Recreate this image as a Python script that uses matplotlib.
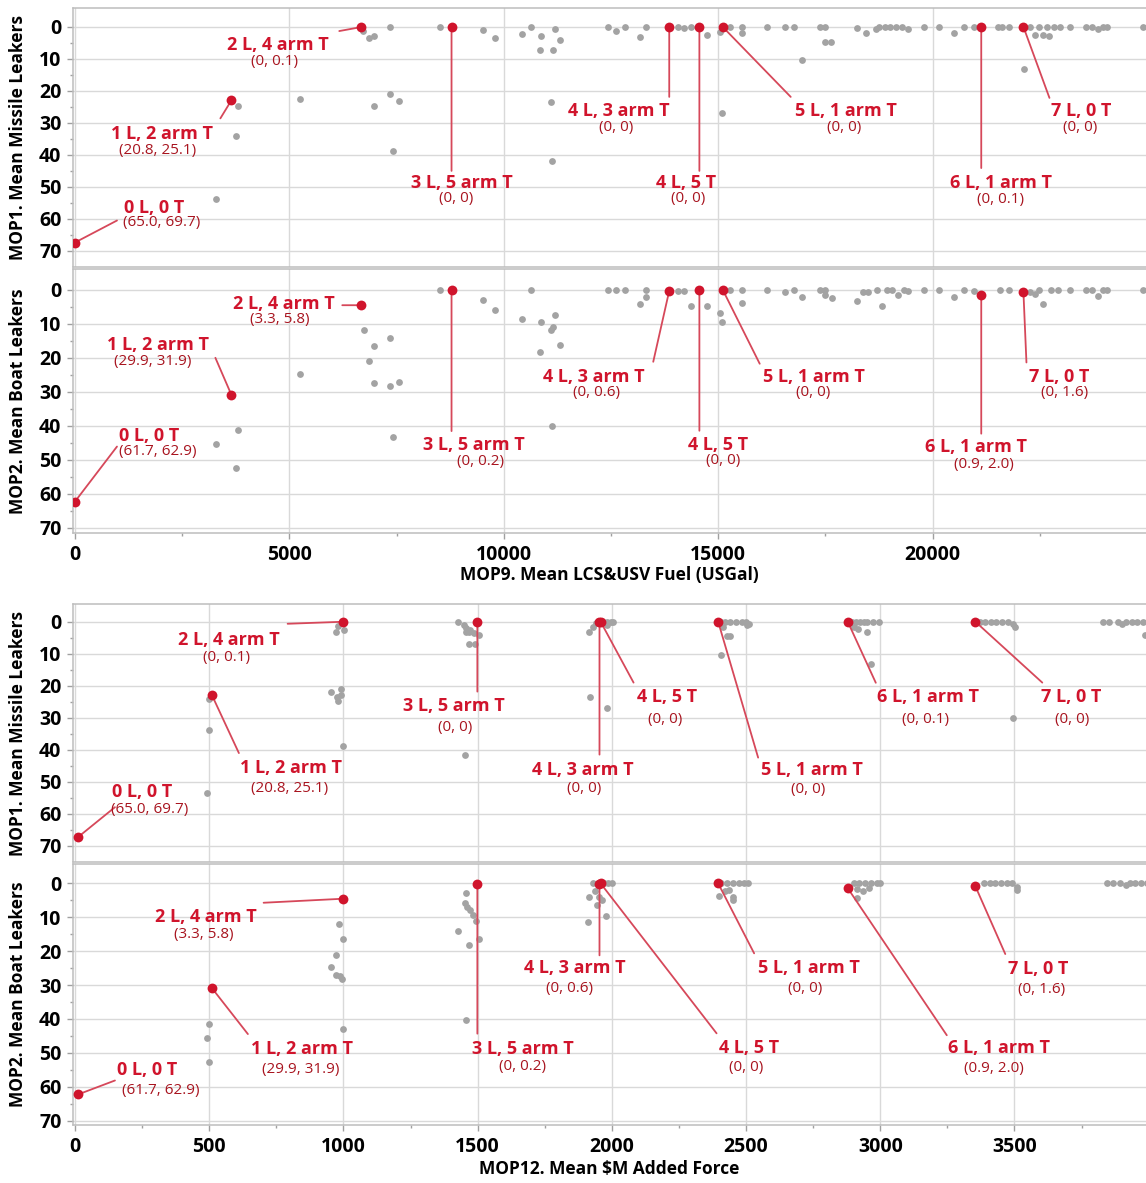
import matplotlib
matplotlib.use('Agg')
import matplotlib.pyplot as plt
from matplotlib.ticker import MultipleLocator, FixedLocator

plt.rcParams['font.family'] = ['Open Sans', 'DejaVu Sans']
plt.rcParams['font.weight'] = 'bold'

# highlighted designs
names = ['0 L, 0 T', '1 L, 2 arm T', '2 L, 4 arm T', '3 L, 5 arm T', '4 L, 3 arm T',
         '4 L, 5 T', '5 L, 1 arm T', '6 L, 1 arm T', '7 L, 0 T']
fuel = [0, 3647, 6676, 8781, 13858, 14561, 15105, 21134, 22118]
cost = [11, 510, 997, 1499, 1954, 1958, 2396, 2879, 3354]
mop1 = [67.35, 22.95, 0.05, 0, 0, 0, 0, 0.05, 0]
mop2 = [62.3, 30.9, 4.55, 0.1, 0.3, 0, 0, 1.45, 0.8]
mop1_ranges = ['(65.0, 69.7)', '(20.8, 25.1)', '(0, 0.1)', '(0, 0)', '(0, 0)',
               '(0, 0)', '(0, 0)', '(0, 0.1)', '(0, 0)']
mop2_ranges = ['(61.7, 62.9)', '(29.9, 31.9)', '(3.3, 5.8)', '(0, 0.2)', '(0, 0.6)',
               '(0, 0)', '(0, 0)', '(0.9, 2.0)', '(0, 1.6)']

# other designs (grey) - fuel vs MOP1
g1_x = [3808, 3763, 3289, 5242, 6720, 6855, 6962, 7347, 6962, 7347,
        7554, 7419, 8513, 9516, 9803, 10430, 10627, 10860, 11200, 11300,
        10834, 11139, 11111, 11130, 12425, 12627, 12821, 13172, 13322, 14051,
        14192, 14359, 14736, 15035, 15088, 15281, 15545, 15545, 16134, 16555,
        16775, 17373, 17496, 17496, 17636, 16959, 15079, 18225, 18444, 18673,
        18752, 18884, 19016, 19147, 19279, 19429, 19806, 20158, 20510, 20729,
        20975, 21520, 21608, 21784, 22267, 22381, 22487, 22575, 22706, 22662,
        22838, 22970, 23207, 23585, 23717, 23849, 23980, 24068, 24900, 22135]
g1_y = [24.6, 34.0, 53.9, 22.4, 1.25, 3.6, 2.7, 0, 24.6, 21.0,
        23.1, 38.9, 0, 1.0, 3.6, 2.2, 0, 2.7, 0.6, 4.2,
        7.1, 7.1, 23.6, 41.8, 0, 1.25, 0, 3.1, 0, 0,
        0.5, 0, 2.4, 1.6, 0.5, 0, 0, 1.8, 0, 0,
        0, 0, 0, 4.8, 4.6, 10.2, 26.9, 0.2, 2.0, 0.6,
        0, 0, 0, 0, 0, 0.6, 0, 0, 1.8, 0,
        0, 0, 0, 0, 0, 2.6, 0, 2.6, 2.9, 0,
        0, 0, 0, 0, 0, 0.8, 0, 0, 0, 13.1]

# fuel vs MOP2
g2_x = [3289, 3808, 3763, 5242, 6747, 6962, 6855, 6962, 7347, 7347,
        7554, 7419, 8513, 9516, 9803, 10430, 10627, 10860, 11200, 11111,
        11139, 11300, 10834, 11130, 12425, 12627, 12821, 13172, 13322, 13322,
        14051, 14192, 14359, 14736, 15035, 15088, 15281, 15545, 15545, 16134,
        16555, 16775, 16959, 17373, 17496, 17496, 17654, 18225, 18374, 18488,
        18708, 18814, 18928, 19060, 19191, 19323, 19429, 19806, 20158, 20510,
        20729, 20975, 21564, 21784, 22267, 22381, 22487, 22575, 22750, 22926,
        23207, 23585, 23717, 23849, 23980, 24068, 24900]
g2_y = [45.5, 41.3, 52.5, 24.8, 11.8, 16.4, 21.0, 27.3, 14.2, 28.3,
        27.0, 43.2, 0, 2.9, 6.0, 8.6, 0, 9.4, 7.4, 11.7,
        11.1, 16.3, 18.3, 40.0, 0, 0, 0, 4.3, 0, 2.0,
        0.4, 0.4, 4.9, 4.9, 6.7, 9.5, 0, 0, 3.9, 0,
        0.6, 0, 2.2, 0, 0, 1.6, 2.5, 3.3, 0.6, 0.6,
        0, 4.7, 0, 0, 1.4, 0, 0.4, 0, 0, 2.0,
        0, 0.4, 0, 0, 0.6, 1.2, 0, 4.3, 0, 0,
        0, 0, 0, 1.7, 0, 0, 0]

# cost vs MOP1
g3_x = [501, 499, 491, 953, 976, 978, 990, 990, 1000, 978,
        971, 1003, 1427, 1451, 1458, 1466, 1473, 1456, 1485, 1466,
        1491, 1505, 1454, 1920, 1916, 1930, 1940, 1947, 1968, 1982,
        1996, 2003, 1982, 1983, 2407, 2421, 2442, 2463, 2484, 2498,
        2505, 2512, 2414, 2428, 2442, 2405, 2896, 2910, 2924, 2938,
        2952, 2973, 2994, 2903, 2917, 2952, 2966, 3370, 3391, 3412,
        3433, 3454, 3475, 3496, 3503, 3496, 3831, 3852, 3887, 3901,
        3915, 3936, 3957, 3978, 3985]
g3_y = [24.3, 33.8, 53.5, 22.1, 23.6, 24.7, 22.9, 21.0, 38.8, 1.5,
        3.3, 2.6, 0, 1.0, 2.1, 3.3, 2.6, 3.3, 3.6, 7.1,
        7.1, 4.2, 41.7, 23.4, 3.1, 1.8, 0.4, 0, 0, 0,
        0, 0, 1.2, 26.9, 0, 0, 0, 0, 0, 0,
        1.2, 0.7, 1.8, 4.6, 4.6, 10.4, 0, 0, 0, 0,
        0, 0, 0, 1.8, 2.3, 3.1, 13.2, 0, 0, 0,
        0, 0, 0, 0.7, 1.8, 30.1, 0, 0, 0, 0.7,
        0, 0, 0, 0, 4.2]

# cost vs MOP2
g4_x = [499, 491, 499, 984, 1000, 971, 953, 974, 986, 993,
        1000, 1458, 1454, 1462, 1473, 1483, 1494, 1427, 1466, 1505,
        1456, 1916, 1937, 1951, 1965, 1944, 1913, 1980, 1930, 1972,
        1986, 2000, 2408, 2429, 2451, 2472, 2493, 2507, 2401, 2420,
        2436, 2453, 2453, 2901, 2922, 2943, 2965, 2986, 3000, 2915,
        2936, 2958, 2912, 3387, 3408, 3429, 3450, 3471, 3492, 3509,
        3509, 3845, 3866, 3894, 3915, 3929, 3950, 3971, 3992]
g4_y = [41.5, 45.5, 52.6, 12.0, 16.5, 21.1, 24.8, 27.0, 27.3, 28.2,
        43.1, 2.9, 5.7, 6.9, 8.0, 9.3, 11.1, 14.2, 18.3, 16.4,
        40.2, 4.1, 2.4, 3.9, 4.9, 6.3, 11.5, 9.7, 0, 0,
        0, 0, 0, 0, 0, 0, 0, 0, 3.7, 2.4,
        1.9, 3.9, 5.0, 0, 0, 0, 0, 0, 0, 1.7,
        2.4, 1.5, 4.4, 0, 0, 0, 0, 0, 0, 1.0,
        2.1, 0, 0, 0, 0.5, 0, 0, 0, 0]

# label placement in pixels relative to the point (y down):
# bold label centre, range label centre, end of leader line
offs1 = [(79, -35, 87, -20, 42, -22), (-69, 34, -74, 50, -11, 18), (-83, 18, -87, 34, -22, 4),
         (10, 156, 5, 172, 0, 144), (-50, 84, -53, 101, 0, 70), (-13, 156, -11, 172, 0, 144),
         (123, 84, 121, 101, 68, 70), (20, 156, 19, 172, 0, 141), (58, 84, 57, 101, 26, 71)]
offs2 = [(74, -66, 83, -50, 42, -55), (-73, -50, -79, -33, -16, -37), (-77, -1, -82, 14, -19, 0),
         (22, 155, 29, 171, 0, 141), (-75, 86, -73, 102, -16, 71), (19, 155, 24, 171, 0, 141),
         (91, 87, 90, 103, 37, 74), (-5, 152, 3, 170, 0, 139), (36, 85, 41, 100, 3, 70)]
offs3 = [(64, -45, 72, -28, 37, -30), (79, 73, 78, 93, 27, 58), (-114, 18, -116, 36, -55, 2),
         (-23, 84, -22, 106, 0, 70), (-17, 148, -15, 167, 0, 133), (66, 75, 65, 98, 33, 61),
         (94, 148, 90, 168, 40, 136), (80, 75, 78, 98, 28, 61), (96, 75, 97, 98, 67, 61)]
offs4 = [(69, -24, 83, -4, 37, -14), (90, 61, 89, 81, 36, 46), (-137, 18, -139, 36, -79, 4),
         (46, 165, 45, 183, 0, 150), (-25, 84, -30, 104, 0, 71), (148, 165, 146, 184, 116, 150),
         (91, 85, 87, 105, 36, 70), (151, 160, 146, 180, 99, 147), (63, 83, 66, 103, 30, 68)]

RED = '#D0142C'
LINE_RED = '#D6485A'
DARK_RED = '#A8141F'
GRAY = '#A3A3A3'
FRAME = '#BDBDBD'

W, H = 1146, 1183
fig = plt.figure(figsize=(W / 100, H / 100), dpi=100)
fig.patch.set_facecolor('white')
LEFT = 72.5


def make_axes(top, bottom):
    return fig.add_axes([LEFT / W, 1 - bottom / H, (W - LEFT) / W, (bottom - top) / H])


def draw_panel(ax, gx, gy, rx, ry, ranges, offs, xlim, ylim, xmaj, ylabel, show_x):
    ax.set_xlim(*xlim)
    ax.set_ylim(*ylim)
    ax.scatter(gx, gy, s=24, color=GRAY, linewidths=0, zorder=2)
    for i, name in enumerate(names):
        tdx, tdy, sdx, sdy, ldx, ldy = offs[i]
        ax.annotate('', xy=(rx[i], ry[i]), xytext=(ldx, -ldy), textcoords='offset pixels',
                    arrowprops=dict(arrowstyle='-', color=LINE_RED, lw=1.3,
                                    shrinkA=0, shrinkB=0), zorder=3)
        ax.annotate(name, xy=(rx[i], ry[i]), xytext=(tdx, -tdy), textcoords='offset pixels',
                    ha='center', va='center', fontsize=13, fontweight='bold', color=RED,
                    zorder=6, annotation_clip=False)
        ax.annotate(ranges[i], xy=(rx[i], ry[i]), xytext=(sdx, -sdy), textcoords='offset pixels',
                    ha='center', va='center', fontsize=11, fontweight='normal',
                    color=DARK_RED, zorder=6, annotation_clip=False)
    ax.scatter(rx, ry, s=50, color=RED, linewidths=0, zorder=5)

    ax.xaxis.set_major_locator(MultipleLocator(xmaj))
    ax.xaxis.set_minor_locator(MultipleLocator(xmaj / 2))
    ax.yaxis.set_major_locator(FixedLocator([0, 10, 20, 30, 40, 50, 60, 70]))
    ax.yaxis.set_minor_locator(FixedLocator([5, 15, 25, 35, 45, 55, 65]))
    ax.grid(True, which='major', color='#D9D9D9', lw=1.0, zorder=0)
    ax.set_axisbelow(True)
    for side in ['left', 'top', 'bottom']:
        ax.spines[side].set_color(FRAME)
        ax.spines[side].set_linewidth(1.1)
    ax.spines['right'].set_visible(False)
    ax.tick_params(axis='y', which='major', length=4, width=1, color='#A0A0A0',
                   labelsize=14, pad=4)
    ax.tick_params(axis='y', which='minor', length=2.5, width=1, color='#A0A0A0')
    if show_x:
        ax.tick_params(axis='x', which='major', length=4, width=1, color='#A0A0A0',
                       labelsize=14, pad=5)
        ax.tick_params(axis='x', which='minor', length=2.5, width=1, color='#A0A0A0')
    else:
        ax.tick_params(axis='x', which='both', length=0, labelbottom=False)
    ax.set_ylabel(ylabel, fontsize=12.5, fontweight='bold')
    ax.yaxis.set_label_coords(-0.042, 0.5)


fuel_lim = (-58, 24976)
cost_lim = (-9.3, 3990)

ax1 = make_axes(8, 267)
draw_panel(ax1, g1_x, g1_y, fuel, mop1, mop1_ranges, offs1, fuel_lim, (75, -5.9), 5000,
           'MOP1. Mean Missile Leakers', False)
ax2 = make_axes(269, 532.5)
draw_panel(ax2, g2_x, g2_y, fuel, mop2, mop2_ranges, offs2, fuel_lim, (71.4, -6.1), 5000,
           'MOP2. Mean Boat Leakers', True)
ax2.set_xlabel('MOP9. Mean LCS&USV Fuel (USGal)', fontsize=12.5, fontweight='bold')
ax2.xaxis.set_label_coords(0.5, -0.129)

ax3 = make_axes(604, 862)
draw_panel(ax3, g3_x, g3_y, cost, mop1, mop1_ranges, offs3, cost_lim, (75.1, -5.5), 500,
           'MOP1. Mean Missile Leakers', False)
ax4 = make_axes(864, 1125)
draw_panel(ax4, g4_x, g4_y, cost, mop2, mop2_ranges, offs4, cost_lim, (71.3, -5.7), 500,
           'MOP2. Mean Boat Leakers', True)
ax4.set_xlabel('MOP12. Mean \\$M Added Force', fontsize=12.5, fontweight='bold')
ax4.xaxis.set_label_coords(0.5, -0.133)

fig.savefig('out.png', dpi=100, facecolor='white')
